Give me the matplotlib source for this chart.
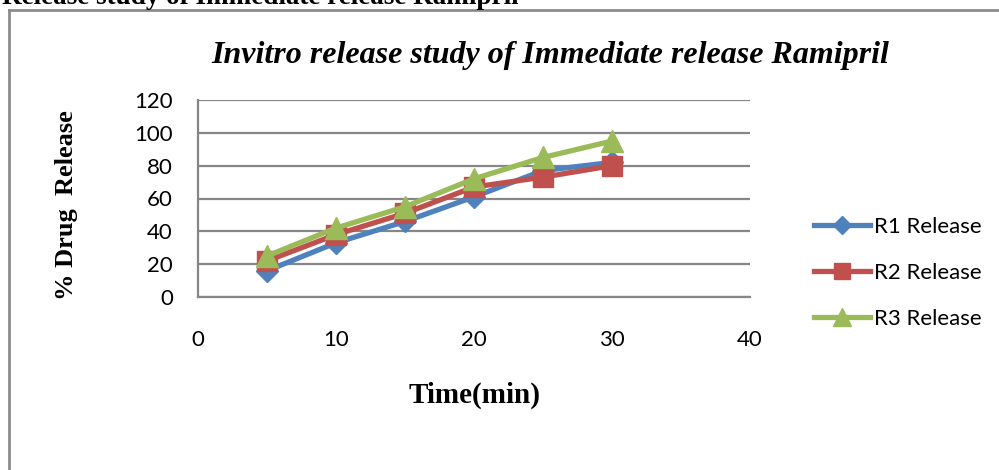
import matplotlib.pyplot as plt
from matplotlib.lines import Line2D

time_min = [5, 10, 15, 20, 25, 30]
r1_release = [16, 33, 46, 61, 77, 82]
r2_release = [22, 38, 51, 67, 73, 80]
r3_release = [25, 42, 55, 72, 85, 95]
series_names = ['R1 Release', 'R2 Release', 'R3 Release']

W, H = 999, 470
fig = plt.figure(figsize=(W / 100, H / 100), dpi=100)

def fx(px):
    return px / W

def fy(py):
    return 1 - py / H

# outer frame of the pasted chart (cropped on the right and bottom)
fig.add_artist(Line2D([fx(9), fx(999)], [fy(10), fy(10)], color='#8c8c8c', lw=2))
fig.add_artist(Line2D([fx(9), fx(9)], [fy(10), fy(470)], color='#8c8c8c', lw=2))

# heading of the page, mostly cut off at the top
fig.text(fx(2), fy(4), 'Release study of Immediate release Ramipril',
         family='Liberation Serif', weight='bold', fontsize=19.5, va='baseline')

ax = fig.add_axes([fx(198), fy(297), fx(750) - fx(198), fy(100) - fy(297)])

ax.plot(time_min, r1_release, color='#4F81BD', lw=3.8, marker='D', ms=11,
        label=series_names[0], zorder=3)
ax.plot(time_min, r2_release, color='#C0504D', lw=3.8, marker='s', ms=14,
        label=series_names[1], zorder=4)
ax.plot(time_min, r3_release, color='#9BBB59', lw=3.8, marker='^', ms=16,
        label=series_names[2], zorder=5)

ax.set_xlim(0, 40)
ax.set_ylim(0, 120)
ax.set_xticks([0, 10, 20, 30, 40])
ax.set_yticks(range(0, 121, 20))
ax.grid(axis='y', color='#868686', lw=1.6)
ax.set_axisbelow(True)
for s in ['top', 'right']:
    ax.spines[s].set_visible(False)
for s in ['left', 'bottom']:
    ax.spines[s].set_color('#868686')
    ax.spines[s].set_linewidth(1.6)
ax.tick_params(length=0, labelsize=16)
ax.tick_params(axis='y', pad=18)
ax.tick_params(axis='x', pad=24)
for lab in ax.get_xticklabels() + ax.get_yticklabels():
    lab.set_family('Lato')

fig.text(fx(550), fy(55), 'Invitro release study of Immediate release Ramipril',
         family='Liberation Serif', style='italic', weight='bold', fontsize=23,
         ha='center', va='center')
fig.text(fx(66), fy(205), '% Drug  Release', family='Liberation Serif',
         weight='bold', fontsize=19, rotation=90, ha='center', va='center')
fig.text(fx(475), fy(395), 'Time(min)', family='Liberation Serif',
         weight='bold', fontsize=21, ha='center', va='center')

leg = ax.legend(loc='center left', bbox_to_anchor=(fx(794), fy(273)),
                bbox_transform=fig.transFigure, frameon=False,
                prop={'family': 'Lato', 'size': 16}, handlelength=2.5,
                labelspacing=1.17, handletextpad=0.2, markerscale=0.8)

fig.savefig('out.png', dpi=100)
